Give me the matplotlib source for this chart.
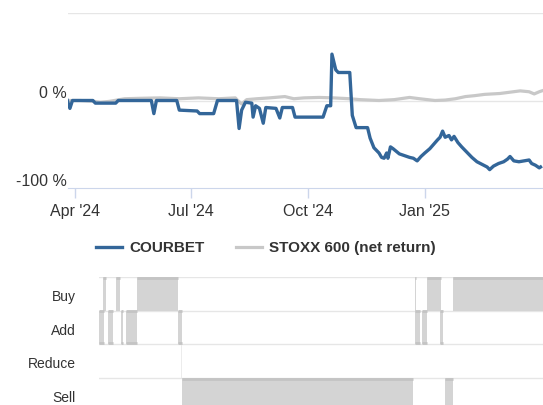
import matplotlib
matplotlib.use("Agg")
import matplotlib.pyplot as plt
import matplotlib.dates as mdates
import matplotlib.transforms as mtransforms
import numpy as np

plt.rcParams['font.family'] = ['Liberation Sans', 'DejaVu Sans']

# performance since late March 2024, in %
courbet_dates = [
    "2024-03-26", "2024-03-28", "2024-03-30", "2024-04-15", "2024-04-17", "2024-05-03",
    "2024-05-05", "2024-05-31", "2024-06-02", "2024-06-04", "2024-06-20", "2024-06-22",
    "2024-07-06", "2024-07-08", "2024-07-19", "2024-07-22", "2024-08-06", "2024-08-08",
    "2024-08-10", "2024-08-13", "2024-08-18", "2024-08-19", "2024-08-21", "2024-08-24",
    "2024-08-27", "2024-08-29", "2024-09-06", "2024-09-09", "2024-09-11", "2024-09-19",
    "2024-09-21", "2024-10-13", "2024-10-16", "2024-10-19", "2024-10-20", "2024-10-23",
    "2024-10-25", "2024-11-03", "2024-11-05", "2024-11-08", "2024-11-17", "2024-11-19",
    "2024-11-22", "2024-11-26", "2024-11-28", "2024-11-30", "2024-12-02", "2024-12-03",
    "2024-12-05", "2024-12-07", "2024-12-12", "2024-12-16", "2024-12-20", "2024-12-23",
    "2024-12-26", "2024-12-29", "2025-01-01", "2025-01-05", "2025-01-08", "2025-01-11",
    "2025-01-13", "2025-01-15", "2025-01-17", "2025-01-20", "2025-01-22", "2025-01-24",
    "2025-01-27", "2025-01-30", "2025-02-03", "2025-02-07", "2025-02-11", "2025-02-15",
    "2025-02-19", "2025-02-21", "2025-02-24", "2025-02-28", "2025-03-04", "2025-03-07",
    "2025-03-09", "2025-03-12", "2025-03-16", "2025-03-20", "2025-03-24", "2025-03-26",
    "2025-03-29", "2025-04-01", "2025-04-02",
]
courbet_values = [
    0, -9, 0, 0, -3, -3,
    0, 0, -15, 0, 0, -11,
    -12, -15, -15, 0, 0, -32,
    -11, -2, -3, -19, -6, -9,
    -26, -8, -9, -20, -8, -8,
    -19, -19, -6, -6, 53, 35,
    32, 32, -17, -31, -31, -43,
    -54, -60, -65, -66, -60, -66,
    -53, -55, -61, -63, -65, -66,
    -69, -64, -60, -55, -50, -45,
    -42, -35, -42, -40, -45, -41,
    -48, -53, -59, -65, -70, -73,
    -76, -79, -75, -72, -70, -67,
    -64, -69, -70, -69, -68, -72,
    -74, -77, -76,
]

stoxx_dates = [
    "2024-03-26", "2024-04-05", "2024-04-16", "2024-04-21", "2024-04-28", "2024-05-10",
    "2024-05-22", "2024-06-07", "2024-06-22", "2024-07-07", "2024-07-23", "2024-08-05",
    "2024-08-07", "2024-08-10", "2024-08-14", "2024-08-22", "2024-09-01", "2024-09-13",
    "2024-09-20", "2024-09-28", "2024-10-10", "2024-10-21", "2024-11-03", "2024-11-11",
    "2024-11-26", "2024-12-08", "2024-12-20", "2024-12-28", "2025-01-09", "2025-01-17",
    "2025-01-25", "2025-02-02", "2025-02-09", "2025-02-17", "2025-03-01", "2025-03-09",
    "2025-03-17", "2025-03-24", "2025-03-28", "2025-04-01", "2025-04-03",
]
stoxx_values = [
    0, 0, -1, -2, -1, 2,
    2.5, 3, 2, 3, 2, 3,
    0, -4, 1, 2, 3, 4.5,
    2, 3, 3.5, 3, 2, 1,
    0, 1, 3.5, 2, 0, 0.5,
    2, 4.5, 5.5, 7, 8, 9.5,
    11, 10, 7.5, 10, 11,
]

tick_dates = ["2024-04-01", "2024-07-01", "2024-10-01", "2025-01-01"]

# recommendation history: (start, end) per rating
ratings = ["Buy", "Add", "Reduce", "Sell"]
rating_periods = {
    "Buy": [("2024-04-23", "2024-04-25"), ("2024-05-03", "2024-05-06"),
            ("2024-05-20", "2024-06-21"), ("2024-12-24", "2024-12-25"),
            ("2025-01-03", "2025-01-14"), ("2025-01-23", "2025-04-10")],
    "Add": [("2024-04-20", "2024-04-24"), ("2024-04-27", "2024-05-01"),
            ("2024-05-07", "2024-05-09"), ("2024-05-11", "2024-05-20"),
            ("2024-06-21", "2024-06-24"), ("2024-12-24", "2024-12-28"),
            ("2024-12-30", "2025-01-03"), ("2025-01-13", "2025-01-15")],
    "Reduce": [("2024-06-23", "2024-06-24")],
    "Sell": [("2024-06-24", "2024-12-23"), ("2025-01-17", "2025-01-23")],
}

W, H = 543, 405
BLUE = '#336699'
GREY = '#c8c8c8'
TXT = '#333333'

d2n = lambda s: mdates.date2num(np.datetime64(s))
ref = d2n("2024-04-01")
ppd = 1.272  # pixels per day


def px_to_date(px):
    return ref + (px - 75) / ppd


fig = plt.figure(figsize=(W / 100, H / 100), dpi=100)

# ---- performance chart
ax = fig.add_axes([68 / W, 1 - 188 / H, 475 / W, 175 / H])
ax.plot([d2n(d) for d in stoxx_dates], stoxx_values, color=GREY, lw=2.3, zorder=3,
        solid_joinstyle='round', label="STOXX 600 (net return)")
ax.plot([d2n(d) for d in courbet_dates], courbet_values, color=BLUE, lw=2.4, zorder=4,
        solid_joinstyle='round', label="COURBET")
ax.set_xlim(px_to_date(68), px_to_date(543))
ax.set_ylim(-100, 100)
for y in [100, 0]:
    ax.axhline(y, color='#e6e6e6', lw=1, zorder=1)
for s in ['top', 'right', 'left']:
    ax.spines[s].set_visible(False)
ax.spines['bottom'].set_color('#ccd6eb')
ax.set_yticks([])
off = mtransforms.offset_copy(ax.get_yaxis_transform(), fig=fig, x=-1, y=1.5, units='points')
for y, lab in [(0, "0 %"), (-100, "-100 %")]:
    ax.text(0, y, lab, transform=off, ha='right', va='baseline', fontsize=11.5, color=TXT)

ax.set_xticks([d2n(d) for d in tick_dates])
ax.xaxis.set_major_formatter(mdates.DateFormatter("%b '%y"))
ax.tick_params(axis='x', length=7.5, color='#ccd6eb', width=1, pad=4, labelsize=11.5,
               labelcolor=TXT)

handles, labels = ax.get_legend_handles_labels()
leg = fig.legend(handles[::-1], labels[::-1], loc='center', bbox_to_anchor=(0.49, 1 - 248 / H),
                 ncol=2, frameon=False, handlelength=1.7, handletextpad=0.5,
                 columnspacing=2.0, prop={'weight': 'bold', 'size': 11})
for t in leg.get_texts():
    t.set_color(TXT)

# ---- recommendation panel
row_h = (378 - 277) / 3
bx = fig.add_axes([99 / W, 1 - (277 + 4 * row_h) / H, 444 / W, 4 * row_h / H])
bx.set_xlim(px_to_date(99), px_to_date(543))
bx.set_ylim(4, 0)
for i in range(4):
    bx.axhline(i, color='#e6e6e6', lw=1, zorder=1)
for i, r in enumerate(ratings):
    for a, b in rating_periods[r]:
        x1, x2 = d2n(a), d2n(b)
        fc = '#ececec' if r == "Reduce" else '#d4d4d4'
        bx.broken_barh([(x1, x2 - x1)], (i, 1), facecolors=fc, edgecolor='none', zorder=2)
        if r != "Reduce":
            bx.hlines([i + 0.02], x1, x2, color='#c4c4c4', lw=2, zorder=3)
            if r == "Add":
                bx.hlines([i + 0.97], x1, x2, color='#c4c4c4', lw=2, zorder=3)
for s in bx.spines.values():
    s.set_visible(False)
bx.set_xticks([])
bx.set_yticks([i + 0.55 for i in range(4)])
bx.set_yticklabels(ratings)
bx.tick_params(axis='y', length=0, pad=17, labelsize=10, labelcolor=TXT)

fig.savefig("out.png", dpi=100)
plt.close(fig)
